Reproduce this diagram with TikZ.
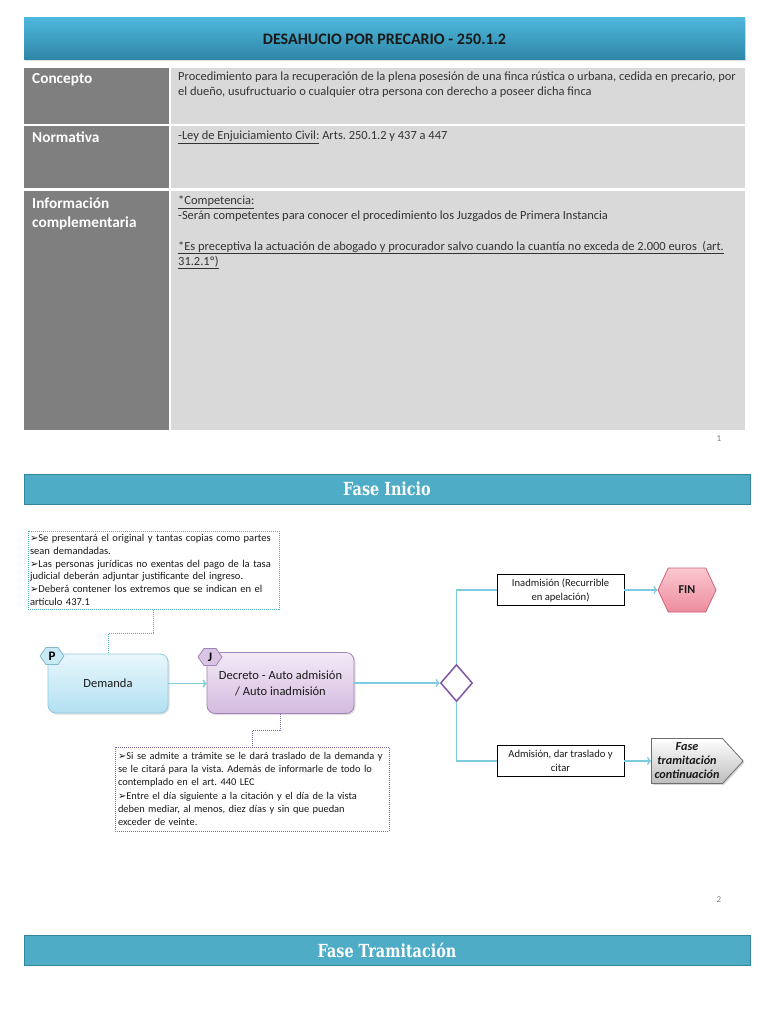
\documentclass[tikz,border=0pt]{standalone}
\usepackage{fontspec}
\setmainfont{Carlito}
\newfontfamily\dejavu{DejaVu Sans}
\newfontfamily\barfont{DejaVu Serif}[FakeStretch=0.8]
\usetikzlibrary{shapes.geometric,shapes.symbols,shadows,arrows.meta}
\definecolor{tbarA}{HTML}{4DB7DB}
\definecolor{tbarB}{HTML}{2E86A7}
\definecolor{dgrey}{HTML}{7F7F7F}
\definecolor{lgrey}{HTML}{D9D9D9}
\definecolor{bodytxt}{HTML}{333333}
\definecolor{phase}{HTML}{4FACC7}
\definecolor{phaseb}{HTML}{31859C}
\definecolor{connc}{HTML}{7DCCDD}
\definecolor{tealdot}{HTML}{4BACC6}
\definecolor{purpdot}{HTML}{7F6A9F}
\definecolor{purp}{HTML}{7E57A8}
\definecolor{demA}{HTML}{E8F7FC}
\definecolor{demB}{HTML}{B2E0F1}
\definecolor{demD}{HTML}{8FCBE0}
\definecolor{decA}{HTML}{F3EAF6}
\definecolor{decB}{HTML}{D4BADF}
\definecolor{decD}{HTML}{A085B8}
\definecolor{finA}{HTML}{FAC8D0}
\definecolor{finB}{HTML}{EE8C9E}
\definecolor{finD}{HTML}{D0627A}
\definecolor{contB}{HTML}{BDBDBD}
\definecolor{contD}{HTML}{6E6E6E}
\newcommand\bul{{\dejavu\fontsize{10}{10}\selectfont ➢}}
\newcommand\jl[1]{\noindent\hbox to\hsize{#1}\par}
\newcommand\rl[1]{\noindent #1\par}
\frenchspacing
\begin{document}
\frenchspacing
\begin{tikzpicture}[x=1pt,y=-1pt,
  titlebar/.style={rectangle, top color=tbarA, bottom color=tbarB, draw=none,
    minimum width=721pt, minimum height=42pt, inner sep=0pt,
    font=\fontsize{16}{18}\selectfont\bfseries, text=black!90,
    drop shadow={opacity=0.25, shadow xshift=1pt, shadow yshift=-1.5pt}},
  lbl/.style={anchor=base west, inner sep=0pt, text=white, font=\fontsize{15.3}{17}\selectfont\bfseries},
  body/.style={anchor=base west, inner sep=0pt, text=bodytxt, font=\fontsize{12.45}{14}\selectfont},
  pnum/.style={inner sep=0pt, text=dgrey, font=\fontsize{9}{10}\selectfont},
  phasebar/.style={rectangle, fill=phase, draw=phaseb, line width=1pt,
    minimum width=726pt, minimum height=30pt, inner sep=0pt, text=white,
    font=\barfont\fontsize{18}{20}\selectfont\bfseries},
  note/.style={rectangle, fill=white, line width=1pt, dash pattern=on 1pt off 1pt,
    inner xsep=2pt, inner ysep=2pt, text=black!90, font=\fontsize{10.5}{12.7}\selectfont},
  demstyle/.style={rectangle, rounded corners=8pt, top color=demA, bottom color=demB,
    draw=demD, line width=0.8pt, minimum width=120pt, minimum height=59pt,
    font=\fontsize{12.5}{14}\selectfont, text=black!90,
    drop shadow={opacity=0.25, shadow xshift=1.5pt, shadow yshift=-1.5pt}},
  decstyle/.style={rectangle, rounded corners=8pt, top color=decA, bottom color=decB,
    draw=decD, line width=0.8pt, minimum width=147pt, minimum height=61pt, align=center,
    font=\fontsize{12.5}{16}\selectfont, text=black!90,
    drop shadow={opacity=0.25, shadow xshift=1.5pt, shadow yshift=-1.5pt}},
  tag/.style={signal, signal to=west and east, signal pointer angle=110,
    minimum width=24pt, minimum height=17pt, inner sep=0pt, line width=0.8pt,
    font=\fontsize{13}{13}\selectfont\bfseries, text=black},
  wbox/.style={rectangle, draw=black, fill=white, line width=0.8pt, minimum width=127pt,
    minimum height=31pt, align=center, inner sep=1pt, font=\fontsize{10.6}{14}\selectfont, text=black!90},
  finstyle/.style={signal, signal to=west and east, signal pointer angle=130,
    top color=finA, bottom color=finB, draw=finD, line width=0.8pt,
    minimum width=58pt, minimum height=44pt, inner sep=0pt,
    font=\fontsize{12}{12}\selectfont\bfseries, text=black!90},
  contstyle/.style={signal, signal to=east, signal pointer angle=95,
    top color=white, bottom color=contB, draw=contD, line width=0.8pt,
    minimum height=45pt, inner xsep=3pt, inner ysep=1pt, align=center,
    font=\fontsize{12.2}{14}\selectfont\bfseries\itshape, text=black!90,
    drop shadow={opacity=0.3, shadow xshift=1.5pt, shadow yshift=-1.5pt}},
  conn/.style={draw=connc, line width=1.3pt},
  arr/.style={conn, -{To[length=4pt,width=8pt]}},
  tdot/.style={draw=tealdot, line width=1pt, dash pattern=on 1pt off 1pt},
  pdot/.style={draw=purpdot, line width=1pt, dash pattern=on 1pt off 1pt}
]
\useasboundingbox (0,0) rectangle (768,1024);
\fill[white] (0,0) rectangle (768,1024);

% ---- title ----
\node[titlebar] (title) at (384.5,39) {DESAHUCIO POR PRECARIO - 250.1.2};

% ---- table ----
\fill[dgrey] (24,68) rectangle (169,124);
\fill[lgrey] (171,68) rectangle (745,124);
\fill[dgrey] (24,126) rectangle (169,188);
\fill[lgrey] (171,126) rectangle (745,188);
\fill[dgrey] (24,191) rectangle (169,430);
\fill[lgrey] (171,191) rectangle (745,430);

\node[lbl] (l1) at (32,84) {Concepto};
\node[lbl] (l2) at (32,143) {Normativa};
\node[lbl] (l3a) at (32,209) {Información};
\node[lbl] (l3b) at (32,227) {complementaria};

\node[body] (c1a) at (178,81) {Procedimiento para la recuperación de la plena posesión de una finca rústica o urbana, cedida en precario, por};
\node[body] (c1b) at (178,96) {el dueño, usufructuario o cualquier otra persona con derecho a poseer dicha finca};
\node[body] (c2) at (178,140) {\underline{-Ley de Enjuiciamiento Civil:} Arts. 250.1.2 y 437 a 447};
\node[body] (c3a) at (178,205) {\underline{*Competencia:}};
\node[body] (c3b) at (178,220) {-Serán competentes para conocer el procedimiento los Juzgados de Primera Instancia};
\node[body] (c3c) at (178,250) {\underline{*Es preceptiva la actuación de abogado y procurador salvo cuando la cuantía no exceda de 2.000 euros\ \ (art.}};
\node[body] (c3d) at (178,265) {\underline{31.2.1º)}};

\node[pnum] (n1) at (719,439) {1};

% ---- Fase Inicio ----
\node[phasebar] (fi) at (387,489) {Fase Inicio};

% ---- notes ----
\node[note, draw=tealdot, text width=247pt, minimum width=251pt, minimum height=78pt] (tn) at (153.5,570) {%
\jl{\bul Se presentará el original y tantas copias como partes}
\rl{sean demandadas.}
\jl{\bul Las personas jurídicas no exentas del pago de la tasa}
\rl{judicial deberán adjuntar justificante del ingreso.}
\jl{\bul Deberá contener los extremos que se indican en el}
\rl{artículo 437.1}};

\node[note, draw=purpdot, text width=268pt, minimum width=274pt, minimum height=84pt, font=\fontsize{10.4}{13.2}\selectfont] (ln) at (252,789) {%
\jl{\bul Si se admite a trámite se le dará traslado de la demanda y}
\jl{se le citará para la vista. Además de informarle de todo lo}
\rl{contemplado en el art. 440 LEC}
\jl{\bul Entre el día siguiente a la citación y el día de la vista}
\jl{deben mediar, al menos, diez días y sin que puedan}
\rl{exceder de veinte.}};

% ---- flow ----
\node[demstyle] (dem) at (108,683.5) {Demanda};
\node[decstyle] (dec) at (280.5,683) {Decreto - Auto admisión\\/ Auto inadmisión};
\node[tag, fill=demB!70!white, draw=demD!90!black] (tp) at (52,656) {P};
\node[tag, fill=decB!85!white, draw=decD] (tj) at (210,657) {J};

\node[diamond, draw=purp, fill=white, line width=1.5pt, minimum width=32pt, minimum height=37pt, inner sep=0pt] (dia) at (456.5,683) {};

\node[wbox] (inad) at (560.5,590) {Inadmisión (Recurrible\\en apelación)};
\node[finstyle] (fin) at (687,590) {FIN};
\node[wbox] (adm) at (560.5,761) {Admisión, dar traslado y\\citar};
\node[contstyle] (cont) at (687,761) {Fase\\tramitación\\continuación};

\draw[arr] (dem.east) -- (dem.east -| dec.west);
\draw[arr] (dec.east) -- (dia.west);
\draw[conn] (dia.north) |- (inad.west);
\draw[arr] (inad.east) -- (fin.west);
\draw[conn] (dia.south) |- (adm.west);
\draw[arr] (adm.east) -- (cont.west);

\draw[tdot] (tn.south) -- ++(0,24) -| (dem.north);
\draw[pdot] (dec.south) -- ++(0,17) -| (ln.north);

\node[pnum] (n2) at (719,900) {2};

% ---- Fase Tramitacion ----
\node[phasebar] (ft) at (387,950.5) {Fase Tramitación};
\end{tikzpicture}
\end{document}
